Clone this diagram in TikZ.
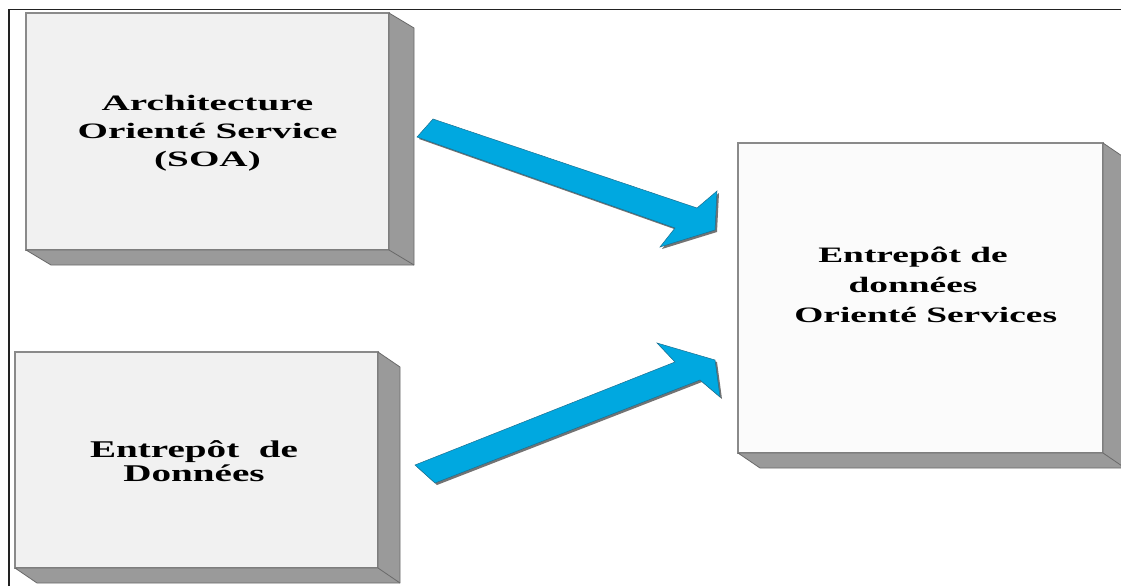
\documentclass[tikz,border=0pt]{standalone}
\usepackage{fontspec}
\setmainfont{Liberation Serif}
\usepackage{graphicx}
\usetikzlibrary{calc}

\definecolor{facefill}{HTML}{F1F1F1}
\definecolor{facewhite}{HTML}{FBFBFB}
\definecolor{faceedge}{HTML}{8A8A8A}
\definecolor{sidefill}{HTML}{9A9A9A}
\definecolor{sideedge}{HTML}{6A6A6A}
\definecolor{arrowblue}{HTML}{00A8E0}
\definecolor{arrowedge}{HTML}{1C6F90}
\definecolor{framecol}{HTML}{222222}

% horizontally widened block of centred lines
\newcommand\widetext[2]{\scalebox{#1}[1]{\begin{tabular}{@{}c@{}}#2\end{tabular}}}

% side and bottom faces of a raised panel (an L-shaped band behind its right and lower edges)
\newcommand\panelsides[3]{%
  \filldraw[fill=sidefill, draw=sideedge, line width=0.8pt, line join=round]
    (#1.north east) -- ++(#2,#3) -- ($(#1.south east)+(#2,#3)$)
    -- ($(#1.south west)+(#2,#3)$) -- (#1.south west) -- (#1.south east) -- cycle;
  \draw[sideedge, line width=0.8pt] (#1.south east) -- ++(#2,#3);}

\tikzset{
  panel/.style={draw=faceedge, line width=1.6pt, fill=facefill,
    inner sep=0pt, outer sep=0pt, anchor=north west},
  label/.style={inner sep=0pt, font=\bfseries},
  blockarrow/.style={fill=arrowblue, draw=arrowedge, line width=0.5pt, line join=miter},
  arrowshade/.style={fill=black!55},
}

\begin{document}
\begin{tikzpicture}[x=1pt,y=-1pt]
  \useasboundingbox (0,0) rectangle (1121,586);
  \clip (0,0) rectangle (1121,586);

  % outer frame (left and top edges)
  \draw[framecol, line width=1.5pt] (9,586) -- (9,9.5) -- (1121,9.5);

  % panels
  \node[panel, minimum width=363pt, minimum height=237pt] (soa) at (26,13) {};
  \panelsides{soa}{25}{15}
  \node[panel, minimum width=363pt, minimum height=216pt] (dw) at (15,352) {};
  \panelsides{dw}{22}{15}
  \node[panel, fill=facewhite, minimum width=365pt, minimum height=310pt] (sodw) at (738,143) {};
  \panelsides{sodw}{22}{15}

  % panel texts
  \node[label, font=\bfseries\fontsize{22}{28}\selectfont] (soatext) at (207.5,132.4)
    {\widetext{1.78}{Architecture\\Orienté Service\\(SOA)}};
  \node[label, font=\bfseries\fontsize{24}{24}\selectfont] (dwtext) at (194,464.7)
    {\widetext{1.63}{Entrepôt\ \ de\\Données}};
  \node[label, font=\bfseries\fontsize{22}{30}\selectfont] (sodwtext) at (913,286.5)
    {\widetext{1.7}{Entrepôt de\\données\\\hspace*{15pt}Orienté Services}};

  % block arrows towards the service-oriented warehouse
  \fill[arrowshade] (435,121) -- (699,210) -- (719,193) -- (717,232)
    -- (662,249) -- (677,230) -- (419,139) -- cycle;
  \filldraw[blockarrow] (433,119) -- (697,208) -- (717,191) -- (715,230)
    -- (660,247) -- (675,228) -- (417,137) -- cycle;

  \fill[arrowshade] (417,467) -- (677,364) -- (659,345) -- (717,362)
    -- (722,399) -- (702,382) -- (437,485) -- cycle;
  \filldraw[blockarrow] (415,465) -- (675,362) -- (657,343) -- (715,360)
    -- (720,397) -- (700,380) -- (435,483) -- cycle;
\end{tikzpicture}
\end{document}
